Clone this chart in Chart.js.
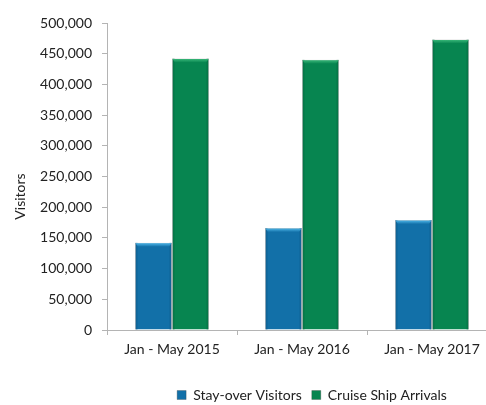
<!DOCTYPE html>
<html>
<head>
<meta charset="utf-8">
<script src="https://cdn.jsdelivr.net/npm/chart.js@4"></script>
<style>
  html, body { margin: 0; padding: 0; background: #fff; overflow: hidden; }
  #wrap { width: 486px; height: 405px; overflow: hidden; }
</style>
</head>
<body>
<div id="wrap"><canvas id="visitorsChart"></canvas></div>
<script>
/* ---------- data ---------- */
const periods = ['Jan - May 2015', 'Jan - May 2016', 'Jan - May 2017'];
const stayOver = [142000, 166000, 179000];
const cruise = [442000, 440000, 473000];
const yTicksMax = 500000;
const yTicksStep = 50000;

/* ---------- colours ---------- */
const blue = { body: '#1270A8', top: '#52BCEE', edge: '#0D5A88' };
const green = { body: '#078550', top: '#3DBB7C', edge: '#056A40' };
const axisGray = '#B4B4B4';
const textColor = '#222222';
const fontFamily = 'Lato, "Open Sans", sans-serif';

/* excel-ish bevel on each bar, drawn over the library's own bar geometry */
const bevelPlugin = {
    id: 'bevel',
    afterDatasetsDraw(chart) {
        const ctx = chart.ctx;
        chart.data.datasets.forEach((ds, i) => {
            const pal = ds.palette;
            chart.getDatasetMeta(i).data.forEach(bar => {
                const { x, y, base, width } = bar.getProps(['x', 'y', 'base', 'width'], true);
                const l = x - width / 2, r = x + width / 2;
                ctx.save();
                // darker side edges
                ctx.fillStyle = pal.edge;
                ctx.globalAlpha = 0.5;
                ctx.fillRect(l + 0.5, y, 2, base - y);
                ctx.fillRect(r - 2.5, y, 2, base - y);
                ctx.globalAlpha = 1;
                // light top bevel fading into the bar colour
                const g = ctx.createLinearGradient(0, y, 0, y + 4);
                g.addColorStop(0, pal.top);
                g.addColorStop(1, pal.body);
                ctx.fillStyle = g;
                ctx.beginPath();
                ctx.moveTo(l + 0.5, y + 0.5);
                ctx.lineTo(r - 0.5, y + 0.5);
                ctx.lineTo(r - 3, y + 4);
                ctx.lineTo(l + 3, y + 4);
                ctx.closePath();
                ctx.fill();
                ctx.restore();
            });
        });
    }
};

/* y axis title, sits a little below the plot middle like the original */
const yTitlePlugin = {
    id: 'yTitle',
    afterDraw(chart) {
        const ctx = chart.ctx;
        const area = chart.chartArea;
        ctx.save();
        ctx.translate(area.left - 87, (area.top + area.bottom) / 2 + 20);
        ctx.rotate(-Math.PI / 2);
        ctx.font = '14px ' + fontFamily;
        ctx.fillStyle = textColor;
        ctx.textAlign = 'center';
        ctx.textBaseline = 'middle';
        ctx.fillText('Visitors', 0, 0);
        ctx.restore();
    }
};

const canvas = document.getElementById('visitorsChart');
canvas.width = 624;
canvas.height = 412;

new Chart(canvas, {
    type: 'bar',
    data: {
        labels: periods,
        datasets: [
            {
                label: 'Stay-over Visitors',
                data: stayOver,
                backgroundColor: blue.body,
                borderColor: 'rgba(60,60,60,0.3)',
                borderWidth: 1,
                palette: blue,
                categoryPercentage: 0.57,
                barPercentage: 1.0
            },
            {
                label: 'Cruise Ship Arrivals',
                data: cruise,
                backgroundColor: green.body,
                borderColor: 'rgba(60,60,60,0.3)',
                borderWidth: 1,
                palette: green,
                categoryPercentage: 0.57,
                barPercentage: 1.0
            }
        ]
    },
    options: {
        responsive: false,
        animation: false,
        devicePixelRatio: 1,
        layout: { padding: { top: 23, left: 0, right: 0, bottom: 0 } },
        plugins: {
            title: { display: false },
            tooltip: { enabled: false },
            legend: {
                position: 'bottom',
                labels: {
                    boxWidth: 9,
                    boxHeight: 9,
                    padding: 10,
                    color: textColor,
                    font: { family: fontFamily, size: 14 }
                }
            }
        },
        scales: {
            x: {
                grid: {
                    display: true,
                    drawOnChartArea: false,
                    drawTicks: true,
                    tickLength: 5,
                    color: axisGray,
                    offset: true
                },
                border: { display: true, color: axisGray },
                ticks: {
                    color: textColor,
                    padding: 6,
                    maxRotation: 0,
                    font: { family: fontFamily, size: 14 }
                },
                afterFit(scale) { scale.height = 48; }
            },
            y: {
                min: 0,
                max: yTicksMax,
                grid: {
                    display: true,
                    drawOnChartArea: false,
                    drawTicks: true,
                    tickLength: 5,
                    color: axisGray
                },
                border: { display: true, color: axisGray },
                ticks: {
                    stepSize: yTicksStep,
                    color: textColor,
                    padding: 10,
                    font: { family: fontFamily, size: 14 },
                    callback: v => v.toLocaleString('en-US')
                },
                afterFit(scale) { scale.width = 107; }
            },
            spacer: {
                position: 'right',
                display: true,
                grid: { display: false },
                border: { display: false },
                ticks: { display: false },
                afterFit(scale) { scale.width = 127; }
            }
        }
    },
    plugins: [bevelPlugin, yTitlePlugin]
});
</script>
</body>
</html>
